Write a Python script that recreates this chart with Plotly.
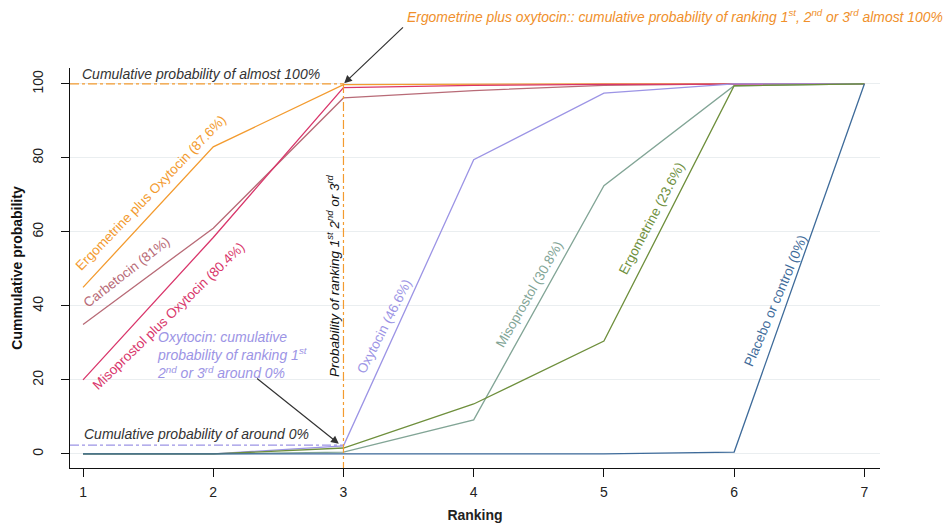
import plotly.graph_objects as go

ranks = [1, 2, 3, 4, 5, 6, 7]
x_ticks = [1, 2, 3, 4, 5, 6, 7]
y_ticks = [0, 20, 40, 60, 80, 100]

ergo_oxy = [45, 83, 99.8, 100, 100, 100, 100]
carbetocin = [35, 61, 96.2, 98.2, 99.6, 100, 100]
miso_oxy = [20, 58.5, 99, 99.6, 99.9, 100, 100]
oxytocin = [0, 0, 2.2, 79.5, 97.5, 100, 100]
misoprostol = [0, 0, 0.5, 9.2, 72.5, 99.5, 100]
ergometrine = [0, 0, 1.6, 13.5, 30.5, 99.5, 100]
placebo = [0, 0, 0, 0, 0, 0.5, 100]

series = [
    ("Ergometrine plus Oxytocin", ergo_oxy, "#F39B2F"),
    ("Carbetocin", carbetocin, "#B86B77"),
    ("Misoprostol plus Oxytocin", miso_oxy, "#D9366B"),
    ("Oxytocin", oxytocin, "#9C94E5"),
    ("Misoprostol", misoprostol, "#82A596"),
    ("Ergometrine", ergometrine, "#6E8F3C"),
    ("Placebo or control", placebo, "#3E6B9A"),
]

# label text, colour, window-pixel centre, angle
labels = [
    ("Ergometrine plus Oxytocin (87.6%)", "#F39B2F", 150, 193, -46),
    ("Carbetocin (81%)", "#B86B77", 126, 272, -38),
    ("Misoprostol plus Oxytocin (80.4%)", "#D9366B", 168, 316, -44),
    ("Oxytocin (46.6%)", "#9C94E5", 384, 326, -63),
    ("Misoprostol (30.8%)", "#82A596", 529, 294, -60),
    ("Ergometrine (23.6%)", "#6E8F3C", 652, 219, -62),
    ("Placebo or control (0%)", "#3E6B9A", 775, 301, -67),
]

OFF = 8  # page body margin
W, H = 951 - OFF, 525 - OFF
ML, MR, MT, MB = 70 - OFF, 71, 68 - OFF, 57
PW, PH = W - ML - MR, H - MT - MB

def px(xw):
    return (xw - OFF - ML) / PW

def py(yw):
    return 1 - (yw - OFF - MT) / PH

FONT = "Liberation Sans, Arial, sans-serif"

fig = go.Figure()
for name, vals, col in series:
    fig.add_trace(go.Scatter(x=ranks, y=vals, mode="lines", name=name,
                             line=dict(color=col, width=1.3), showlegend=False))

shapes = [
    dict(type="line", xref="paper", yref="y", x0=0, x1=px(344), y0=100, y1=100,
         line=dict(color="#F39B2F", width=1.2, dash="dashdot")),
    dict(type="line", xref="paper", yref="y", x0=0, x1=px(344), y0=2.4, y1=2.4,
         line=dict(color="#9C94E5", width=1.2, dash="dashdot")),
    dict(type="line", xref="x", yref="y", x0=3, x1=3, y0=100, y1=-3.8,
         line=dict(color="#F39B2F", width=1.2, dash="dashdot")),
]

ann = []
for txt, col, cx, cy, ang in labels:
    ann.append(dict(text=txt, xref="paper", yref="paper", x=px(cx), y=py(cy),
                    xanchor="center", yanchor="middle",
                    showarrow=False, textangle=ang,
                    font=dict(family=FONT, size=13.5, color=col)))

ann += [
    dict(text="<i>Cumulative probability of almost 100%</i>", xref="paper", yref="paper",
         x=px(80), y=py(74), xanchor="left", yanchor="middle", showarrow=False,
         font=dict(family=FONT, size=14, color="#333333")),
    dict(text="<i>Cumulative probability of around 0%</i>", xref="paper", yref="paper",
         x=px(82), y=py(434), xanchor="left", yanchor="middle", showarrow=False,
         font=dict(family=FONT, size=14, color="#333333")),
    dict(text="<i>Probability of ranking 1<sup>st</sup> 2<sup>nd</sup> or 3<sup>rd</sup></i>",
         xref="paper", yref="paper", x=px(333), y=py(276), xanchor="center", yanchor="middle",
         showarrow=False, textangle=-90,
         font=dict(family=FONT, size=13.5, color="#111111")),
    dict(text="<i>Ergometrine plus oxytocin:: cumulative probability of ranking 1<sup>st</sup>, "
              "2<sup>nd</sup> or 3<sup>rd</sup> almost 100%</i>",
         xref="paper", yref="paper", x=px(405), y=py(16), xanchor="left", yanchor="middle",
         showarrow=False, font=dict(family=FONT, size=13.9, color="#F0902B")),
    dict(text="<i>Oxytocin: cumulative<br>probability of ranking 1<sup>st</sup><br>"
              "2<sup>nd</sup> or 3<sup>rd</sup> around 0%</i>",
         xref="paper", yref="paper", x=px(155), y=py(327), xanchor="left", yanchor="top",
         align="left", showarrow=False,
         font=dict(family=FONT, size=14, color="#9C94E5")),
    dict(text="", x=3, y=100, xref="x", yref="y", showarrow=True, ax=61, ay=-58,
         arrowhead=2, arrowsize=1.3, arrowwidth=1.2, arrowcolor="#333333", standoff=1),
    dict(text="", x=2.97, y=2.6, xref="x", yref="y", showarrow=True, ax=-84, ay=-67,
         arrowhead=2, arrowsize=1.3, arrowwidth=1.2, arrowcolor="#333333", standoff=1),
]

fig.update_layout(
    width=W, height=H,
    margin=dict(l=ML, r=MR, t=MT, b=MB, autoexpand=False),
    plot_bgcolor="white", paper_bgcolor="white",
    shapes=shapes, annotations=ann,
    font=dict(family=FONT, size=13, color="#222222"),
    xaxis=dict(range=[0.9, 7.12], tickvals=x_ticks, ticktext=[str(v) for v in x_ticks],
               showgrid=False, zeroline=False, showline=True, linecolor="#111111",
               linewidth=1.2, ticks="outside", ticklen=8, tickcolor="#111111",
               ticklabelstandoff=3, automargin=False,
               tickfont=dict(size=14, color="#222222"),
               title=dict(text="<b>Ranking</b>", font=dict(size=14, color="#222222"),
                          standoff=11)),
    yaxis=dict(range=[-3.8, 104.3], tickvals=y_ticks, ticktext=[str(v) for v in y_ticks],
               showgrid=True, gridcolor="#EAEEF0", gridwidth=1, zeroline=False,
               showline=True, linecolor="#111111", linewidth=1.2,
               ticks="outside", ticklen=8, tickcolor="#111111", tickangle=-90,
               ticklabelstandoff=12, automargin=False,
               tickfont=dict(size=14, color="#222222"),
               title=dict(text="<b>Cummulative probability</b>",
                          font=dict(size=14, color="#111111"), standoff=4)),
)

fig.write_html("out.html")
